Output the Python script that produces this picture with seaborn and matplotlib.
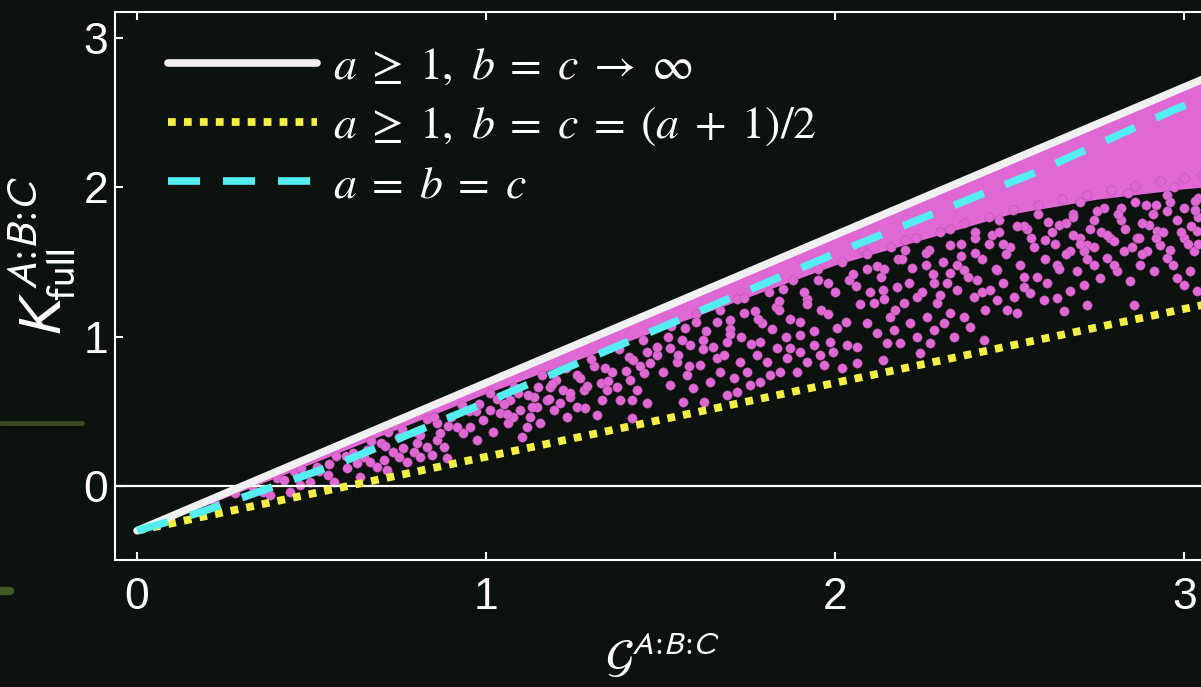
import matplotlib
matplotlib.use("Agg")
import matplotlib.pyplot as plt
import seaborn as sns
from matplotlib.font_manager import FontProperties
from matplotlib.lines import Line2D

# boundary curves
line_x = [0.0, 3.1]
inf_y = [-0.3, 2.77]          # a >= 1, b = c -> inf
half_y = [-0.3, 1.235]        # a >= 1, b = c = (a+1)/2
equal_x = [0.0, 0.18, 0.31, 0.58, 1.0, 1.38, 2.01, 2.58, 2.97, 3.1]
equal_y = [-0.3, -0.178, -0.071, 0.152, 0.56, 0.94, 1.567, 2.105, 2.518, 2.64]

# saturated part of the cloud, right under the upper bound
band_x = [0.0, 0.25, 0.5, 1.0, 1.5, 2.0, 2.5, 2.75, 3.0, 3.1]
band_top = [-0.3, -0.053, 0.195, 0.69, 1.185, 1.68, 2.175, 2.42, 2.67, 2.77]
band_bottom = [-0.3, -0.08, 0.15, 0.62, 1.05, 1.48, 1.82, 1.92, 1.99, 2.01]

# the looser points below it
pts_x = [
    0.515, 0.548, 0.563, 0.601, 0.630, 0.649, 0.668, 0.687, 0.706, 0.716, 0.734, 0.749,
    0.763, 0.773, 0.792, 0.801, 0.811, 0.830, 0.844, 0.859, 0.868, 0.878, 0.887, 0.467,
    0.496, 0.639, 0.438, 0.381,
    0.916, 0.935, 0.954, 0.973, 0.992, 1.021, 1.040, 1.064, 1.078, 1.097, 1.102, 1.117,
    1.126, 1.145, 1.155, 1.174, 1.193, 1.212, 1.231, 1.241, 1.260, 1.279, 1.284, 1.317,
    1.331, 1.346, 1.374, 1.384, 1.413, 1.417, 1.432, 1.417, 1.451, 1.460, 1.011, 1.069,
    1.136, 1.183,
    1.489, 1.508, 1.527, 1.546, 1.565, 1.575, 1.594, 1.613, 1.623, 1.642, 1.661, 1.670,
    1.690, 1.709, 1.718, 1.728, 1.747, 1.756, 1.776, 1.785, 1.804, 1.814, 1.833, 1.842,
    1.862, 1.871, 1.890, 1.900, 1.919, 1.938, 1.957, 1.967, 1.986, 1.995, 2.019, 2.033,
    1.527, 1.585, 1.690, 1.785, 1.900, 2.006,
    2.062, 2.062, 2.091, 2.119, 2.138, 2.148, 2.158, 2.167, 2.186, 2.196, 2.215, 2.234,
    2.244, 2.263, 2.272, 2.282, 2.291, 2.311, 2.330, 2.339, 2.349, 2.368, 2.387, 2.397,
    2.406, 2.425, 2.430, 2.444, 2.463, 2.482, 2.492, 2.511, 2.521, 2.540, 2.559, 2.578,
    2.597, 2.606, 2.110, 2.138, 2.177, 2.234, 2.282, 2.330, 2.368, 2.463,
    2.635, 2.654, 2.673, 2.693, 2.712, 2.721, 2.740, 2.759, 2.778, 2.807, 2.826, 2.845,
    2.855, 2.874, 2.893, 2.912, 2.931, 2.950, 2.969, 2.979, 2.998, 3.017, 3.036, 3.027,
    2.635, 2.673, 2.721, 2.788, 2.865, 2.922, 2.998, 3.036, 2.712,
    1.03, 1.09, 1.15, 1.20, 1.26, 1.31, 1.36, 1.41, 1.46, 1.22, 1.33, 1.44,
    1.52, 1.57, 1.62, 1.66, 1.70, 1.74, 1.79, 1.83, 1.87, 1.92, 1.96, 2.00, 1.60, 1.72,
    1.85, 1.95,
    2.04, 2.09, 2.13, 2.18, 2.22, 2.27, 2.31, 2.36, 2.40, 2.45, 2.50, 2.55, 2.60, 2.08,
    2.20, 2.33, 2.47, 2.58,
    2.64, 2.68, 2.73, 2.77, 2.82, 2.86, 2.91, 2.95, 3.00, 3.04, 2.70, 2.84, 2.97,
    0.55, 0.60, 0.66, 0.70, 0.75, 0.80, 0.86, 0.90, 0.95, 0.98, 0.72, 0.83,
    0.33, 0.40, 0.45, 0.36, 0.28, 0.22,
]
pts_y = [
    0.129, 0.074, 0.029, 0.118, 0.152, 0.196, 0.163, 0.129, 0.174, 0.107, 0.230, 0.196,
    0.252, 0.163, 0.230, 0.286, 0.196, 0.263, 0.208, 0.308, 0.353, 0.263, 0.185, 0.007,
    0.029, 0.062, -0.038, -0.060,
    0.397, 0.353, 0.397, 0.308, 0.442, 0.364, 0.487, 0.420, 0.464, 0.509, 0.330, 0.397,
    0.464, 0.531, 0.420, 0.576, 0.509, 0.554, 0.464, 0.598, 0.531, 0.643, 0.520, 0.476,
    0.576, 0.643, 0.665, 0.576, 0.710, 0.576, 0.643, 0.453, 0.755, 0.554, 0.509, 0.576,
    0.598, 0.665,
    0.877, 0.766, 0.676, 0.833, 0.565, 0.743, 0.654, 0.810, 0.565, 0.699, 0.855, 0.766,
    0.610, 0.721, 0.632, 0.833, 0.766, 0.676, 0.877, 0.699, 0.833, 0.743, 0.922, 0.766,
    0.855, 0.922, 0.766, 0.900, 0.833, 0.944, 0.877, 0.810, 0.966, 0.900, 0.788, 0.944,
    0.922, 0.944, 0.966, 0.966, 1.011, 1.056,
    0.933, 0.822, 1.090, 1.023, 0.844, 0.956, 1.134, 1.045, 0.956, 1.224, 1.090, 1.000,
    0.889, 1.134, 0.956, 1.045, 1.224, 1.090, 1.157, 1.000, 1.313, 1.134, 1.067, 1.268,
    1.380, 0.978, 1.179, 1.313, 1.246, 1.358, 1.179, 1.268, 1.157, 1.335, 1.291, 1.402,
    1.246, 1.358, 1.224, 1.313, 1.335, 1.268, 1.358, 1.425, 1.447, 1.447,
    1.257, 1.168, 1.302, 1.436, 1.346, 1.212, 1.480, 1.391, 1.525, 1.436, 1.570, 1.369,
    1.212, 1.480, 1.570, 1.436, 1.614, 1.525, 1.480, 1.391, 1.346, 1.436, 1.302, 1.570,
    1.480, 1.570, 1.614, 1.659, 1.659, 1.704, 1.659, 1.704, 1.570,
    0.58, 0.62, 0.66, 0.71, 0.74, 0.80, 0.76, 0.86, 0.90, 0.64, 0.69, 0.80,
    1.00, 1.06, 0.98, 1.10, 1.05, 1.16, 1.09, 1.20, 1.12, 1.25, 1.18, 1.30, 1.15, 1.25,
    1.32, 1.38,
    1.38, 1.45, 1.40, 1.52, 1.46, 1.58, 1.50, 1.62, 1.56, 1.68, 1.60, 1.72, 1.65, 1.58,
    1.65, 1.72, 1.78, 1.82,
    1.75, 1.82, 1.72, 1.86, 1.78, 1.90, 1.82, 1.95, 1.86, 1.93, 1.90, 1.96, 2.00,
    0.15, 0.20, 0.24, 0.29, 0.33, 0.36, 0.42, 0.46, 0.50, 0.55, 0.36, 0.45,
    0.00, 0.05, 0.10, -0.04, -0.05, -0.10,
]

# points crowding the lower edge of the saturated part
edge_x = [
    0.42, 0.47, 0.52, 0.57, 0.62, 0.67, 0.71, 0.76, 0.81, 0.85, 0.89, 0.93, 0.97, 1.01,
    1.05, 1.08, 1.12, 1.16, 1.19, 1.23, 1.27, 1.30, 1.34, 1.38, 1.42, 1.45, 1.49, 1.53,
    1.56, 1.60, 1.63, 1.67, 1.70, 1.74, 1.77, 1.81, 1.84, 1.88, 1.91, 1.95, 1.98, 2.02,
    2.05, 2.09, 2.12, 2.16, 2.19, 2.23, 2.26, 2.30, 2.33, 2.37, 2.40, 2.44, 2.47, 2.51,
    2.54, 2.58, 2.61, 2.65, 2.68, 2.72, 2.75, 2.79, 2.82, 2.86, 2.89, 2.93, 2.96, 3.00,
    3.03, 3.05,
    1.06, 1.13, 1.18, 1.24, 1.29, 1.35, 1.40, 1.47, 1.55, 1.58, 1.65, 1.68, 1.73, 1.76,
    1.82, 1.86, 1.90, 1.94, 1.98, 2.03, 2.07, 2.10, 2.14, 2.17, 2.21, 2.25, 2.28, 2.32,
    2.35, 2.38, 2.42, 2.46, 2.49, 2.53, 2.57, 2.60, 2.63, 2.66, 2.70, 2.74, 2.76, 2.80,
    2.83, 2.87, 2.90, 2.94, 2.98, 3.02, 3.04, 2.44, 2.56, 2.68, 2.92, 3.01,
    2.62, 2.66, 2.70, 2.74, 2.78, 2.81, 2.85, 2.88, 2.92, 2.95, 2.99, 3.03, 2.64, 2.72,
    2.80, 2.88, 2.96, 3.04, 2.30, 2.36, 2.42, 2.48, 2.54, 2.26, 2.40, 2.52, 2.14, 2.20,
    2.06, 1.78, 1.84, 1.92, 1.62, 1.70,
]
edge_y = [
    0.04, 0.12, 0.10, 0.20, 0.22, 0.30, 0.27, 0.38, 0.34, 0.46, 0.40, 0.54, 0.50, 0.62,
    0.55, 0.66, 0.61, 0.74, 0.68, 0.79, 0.72, 0.85, 0.79, 0.92, 0.84, 0.98, 0.93, 1.07,
    0.98, 1.10, 1.04, 1.18, 1.11, 1.26, 1.17, 1.30, 1.24, 1.38, 1.30, 1.45, 1.36, 1.50,
    1.42, 1.55, 1.47, 1.60, 1.52, 1.66, 1.56, 1.70, 1.61, 1.76, 1.66, 1.80, 1.70, 1.85,
    1.74, 1.88, 1.77, 1.92, 1.80, 1.95, 1.84, 1.98, 1.86, 2.01, 1.88, 2.04, 1.90, 2.06,
    1.91, 2.08,
    0.48, 0.53, 0.58, 0.62, 0.67, 0.70, 0.77, 0.82, 0.88, 0.80, 0.93, 0.88, 1.00, 0.95,
    1.05, 1.00, 1.10, 1.04, 1.15, 1.10, 1.22, 1.30, 1.25, 1.18, 1.36, 1.30, 1.42, 1.36,
    1.48, 1.40, 1.52, 1.45, 1.55, 1.48, 1.60, 1.52, 1.62, 1.55, 1.66, 1.60, 1.70, 1.64,
    1.72, 1.66, 1.75, 1.70, 1.78, 1.74, 1.80, 1.62, 1.66, 1.68, 1.88, 1.62,
    1.70, 1.76, 1.62, 1.78, 1.68, 1.82, 1.60, 1.76, 1.66, 1.84, 1.70, 1.85, 1.45, 1.52,
    1.48, 1.55, 1.58, 1.62, 1.28, 1.54, 1.30, 1.62, 1.40, 1.48, 1.70, 1.74, 1.45, 1.58,
    1.34, 1.12, 1.18, 1.22, 0.92, 1.02,
]

labels = [r'$a \;\geq\; 1,\ b \;=\; c \;\rightarrow\; \infty$',
          r'$a \;\geq\; 1,\ b \;=\; c \;=\; (a \;+\; 1)/2$',
          r'$a \;=\; b \;=\; c$']

bg = '#0c130e'
pink = '#df68d5'

sns.set_theme(style='ticks')
plt.rcParams['font.family'] = ['Liberation Sans', 'DejaVu Sans']

fig = plt.figure(figsize=(12.01, 6.87), dpi=100, facecolor=bg)
ax = fig.add_axes([0.0958, 0.1849, 0.9118, 0.7977], facecolor=bg)

ax.fill_between(band_x, band_bottom, band_top, color=pink, lw=0, zorder=1)
sns.scatterplot(x=pts_x + edge_x, y=pts_y + edge_y, ax=ax, s=46, color=pink,
                edgecolor='#a84c9e', linewidth=0.3, zorder=2, legend=False)
ax.axhline(0, color='white', lw=1.6, zorder=3)

sns.lineplot(x=line_x, y=inf_y, ax=ax, color='#f0f0f0', lw=5.5, label=labels[0], zorder=5)
sns.lineplot(x=line_x, y=half_y, ax=ax, color='#f5ef45', lw=5.6,
             linestyle=(0, (1, 1.05)), label=labels[1], zorder=4)
sns.lineplot(x=equal_x, y=equal_y, ax=ax, color='#55eef0', lw=5.5,
             linestyle=(0, (4.2, 3.0)), label=labels[2], zorder=6)

ax.set_xlim(-0.063, 3.074)
ax.set_ylim(-0.496, 3.174)
ax.set_xticks([0, 1, 2, 3])
ax.set_yticks([0, 1, 2, 3])

for s in ax.spines.values():
    s.set_color('white')
    s.set_linewidth(1.5)
ax.tick_params(direction='in', length=6, width=1.5, color='white', labelcolor='white',
               labelsize=32, top=True, right=True)
ax.tick_params(axis='x', pad=12)
ax.tick_params(axis='y', pad=5)

ax.set_ylabel(r'$K_{\mathrm{full}}^{A\!:\!B\!:\!C}$', fontsize=43, color='white',
              math_fontfamily='stixsans')
ax.yaxis.set_label_coords(-0.034, 0.553)
ax.set_xlabel(r'$\mathcal{G}^{A\!:\!B\!:\!C}$', fontsize=33, color='white',
              math_fontfamily='stixsans', va='top')
ax.xaxis.set_label_coords(0.5, -0.135)

leg = ax.legend(loc='upper left', bbox_to_anchor=(0.048, 0.94), frameon=False,
                prop=FontProperties(size=33, math_fontfamily='stix'),
                handlelength=3.27, handletextpad=0.33, labelspacing=0.33,
                borderaxespad=0, borderpad=0)
for t in leg.get_texts():
    t.set_color('white')

# faint smudges at the far left of the frame
fig.add_artist(Line2D([0.0, 0.068], [0.385, 0.385], color='#48592b', lw=3.5, alpha=0.8))
fig.add_artist(Line2D([0.0, 0.008], [0.14, 0.14], color='#4f6b2a', lw=6, alpha=0.8))

fig.savefig('out.png', dpi=100, facecolor=bg)
